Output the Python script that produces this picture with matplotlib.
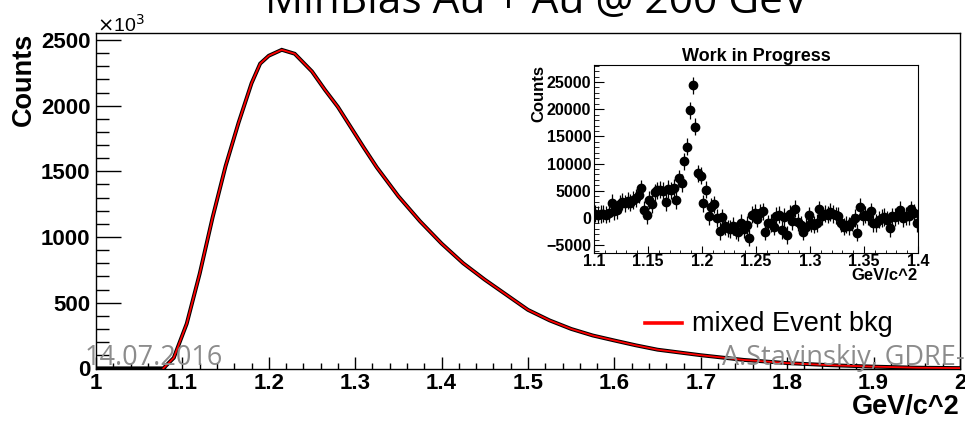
import matplotlib.pyplot as plt
from matplotlib.ticker import MultipleLocator, FormatStrFormatter

# main spectrum (values in units of 10^3 counts)
mass = [1.00, 1.078, 1.09, 1.105, 1.12, 1.135, 1.15, 1.165, 1.18, 1.19, 1.20,
        1.215, 1.23, 1.25, 1.265, 1.28, 1.295, 1.31, 1.325, 1.35, 1.375, 1.40,
        1.425, 1.45, 1.475, 1.50, 1.525, 1.55, 1.575, 1.60, 1.625, 1.65, 1.70,
        1.75, 1.80, 1.85, 1.90, 1.95, 2.00]
counts = [0, 0, 80, 340, 720, 1150, 1540, 1870, 2170, 2320, 2380,
          2425, 2395, 2260, 2120, 1990, 1835, 1680, 1530, 1310, 1120, 950,
          800, 675, 560, 445, 365, 300, 250, 212, 175, 142, 100,
          64, 40, 24, 13, 5, 2]
bkgStart = 1   # mixed event bkg drawn from 1.078 on

# inset: signal after background subtraction, bins of 2.5 MeV from 1.1
insetLo = 1.1
insetBin = 0.0025
insetCounts = [800, 600, 700, 800, 600, 900, 2800, 1200, 1400, 2600,
               3000, 2700, 3200, 2800, 3300, 3700, 4300, 5450, 1500, 550,
               3300, 2600, 4700, 5100, 5200, 5000, 2900, 5300, 5100, 5500,
               3300, 7300, 6400, 10400, 13100, 19800, 24400, 16800, 8200, 7800,
               2700, 5200, 400, 2100, 2500, 0, -2400, 100, -1500, -1900,
               -2000, -1500, -2300, -2600, -900, -2100, -1300, -3600, 600, 900,
               -100, 900, 1200, -2500, -1000, -900, -1600, 400, 600, -2200,
               200, -3100, 800, -600, 1700, -700, -1300, -2500, -1600, 500,
               -1000, -1200, -900, 1600, 300, 800, 600, 1100, 700, 500,
               400, -1000, -1600, -1200, -1500, -800, 0, -2700, 2100, 400,
               600, 300, 1200, -1000, -900, -300, 0, 200, -300, -1900,
               300, 200, 500, 1500, 0, 400, 300, 1600, 900, -1000]
insetErr = 1600

W, H = 965, 421
fig = plt.figure(figsize=(W / 100, H / 100), dpi=100)

ax = fig.add_axes([96 / W, (H - 369) / H, 864 / W, 336 / H])
ax.plot(mass, counts, color='black', lw=2.8, solid_joinstyle='miter', zorder=2)
ax.plot(mass[bkgStart:], counts[bkgStart:], color='red', lw=1.3, zorder=3)
ax.set_xlim(1.0, 2.0)
ax.set_ylim(-5, 2553)

ax.xaxis.set_major_locator(MultipleLocator(0.1))
ax.xaxis.set_minor_locator(MultipleLocator(0.02))
ax.yaxis.set_major_locator(MultipleLocator(500))
ax.yaxis.set_minor_locator(MultipleLocator(100))
ax.xaxis.set_major_formatter(FormatStrFormatter('%g'))
ax.tick_params(axis='both', which='both', direction='in', top=False, right=False)
ax.tick_params(axis='y', which='major', length=18, width=1, pad=4)
ax.tick_params(axis='y', which='minor', length=9.5, width=1)
ax.tick_params(axis='x', which='major', length=8.5, width=1, pad=3)
ax.tick_params(axis='x', which='minor', length=4.3, width=1)
for lab in ax.get_xticklabels() + ax.get_yticklabels():
    lab.set_fontfamily('Liberation Sans')
    lab.set_fontweight('bold')
    lab.set_fontsize(16)
for sp in ax.spines.values():
    sp.set_linewidth(1)

ax.set_xlabel('GeV/c^2', fontfamily='Liberation Sans', fontweight='bold',
              fontsize=19.5, loc='right', labelpad=0)
ax.set_ylabel('Counts', fontfamily='Liberation Sans', fontweight='bold',
              fontsize=19.5, loc='top', labelpad=3)
fig.text(97 / W, 1 - 32 / H, r'$\times$10$^3$', fontfamily='Liberation Sans',
         fontsize=14, va='baseline')

# legend entry placed like the ROOT legend
fig.add_artist(plt.Line2D([645 / W, 682 / W], [1 - 323 / H, 1 - 323 / H],
                          color='red', lw=2.6))
fig.text(692 / W, 1 - 331 / H, 'mixed Event bkg', fontfamily='Liberation Sans',
         fontsize=19.5, va='baseline')

# watermark texts
fig.text(85 / W, 1 - 365 / H, '14.07.2016', fontfamily='Open Sans', fontsize=19.5,
         color='#8c8c8c', va='baseline', zorder=10)
fig.text(722 / W, 1 - 365 / H, 'A.Stavinskiy, GDRE-', fontfamily='Open Sans',
         fontsize=19.5, color='#8c8c8c', va='baseline', zorder=10)
fig.text(537 / W, 1 - 13 / H, 'MinBias Au + Au @ 200 GeV', fontfamily='Open Sans',
         fontsize=30.5, ha='center', va='baseline')

# inset
axi = fig.add_axes([594 / W, (H - 253) / H, 324 / W, 188 / H])
insetX = [insetLo + insetBin * (i + 0.5) for i in range(len(insetCounts))]
axi.errorbar(insetX, insetCounts, yerr=insetErr, fmt='o', color='black',
             ms=6, elinewidth=0.9, capsize=0)
axi.set_xlim(1.1, 1.4)
axi.set_ylim(-6434, 28125)
axi.xaxis.set_major_locator(MultipleLocator(0.05))
axi.xaxis.set_minor_locator(MultipleLocator(0.01))
axi.yaxis.set_major_locator(MultipleLocator(5000))
axi.yaxis.set_minor_locator(MultipleLocator(1000))
axi.xaxis.set_major_formatter(FormatStrFormatter('%g'))
axi.tick_params(axis='both', which='both', direction='in', top=False, right=False)
axi.tick_params(axis='y', which='major', length=7, pad=2)
axi.tick_params(axis='y', which='minor', length=3.5)
axi.tick_params(axis='x', which='major', length=5, pad=1)
axi.tick_params(axis='x', which='minor', length=2.5)
for lab in axi.get_xticklabels() + axi.get_yticklabels():
    lab.set_fontfamily('Liberation Sans')
    lab.set_fontweight('bold')
    lab.set_fontsize(11.5)
axi.set_title('Work in Progress', fontfamily='Liberation Sans', fontweight='bold',
              fontsize=13, pad=3)
axi.set_xlabel('GeV/c^2', fontfamily='Liberation Sans', fontweight='bold',
               fontsize=12, loc='right', labelpad=-1)
axi.set_ylabel('Counts', fontfamily='Liberation Sans', fontweight='bold',
               fontsize=12, loc='top', labelpad=0)

fig.savefig('out.png', dpi=100)
